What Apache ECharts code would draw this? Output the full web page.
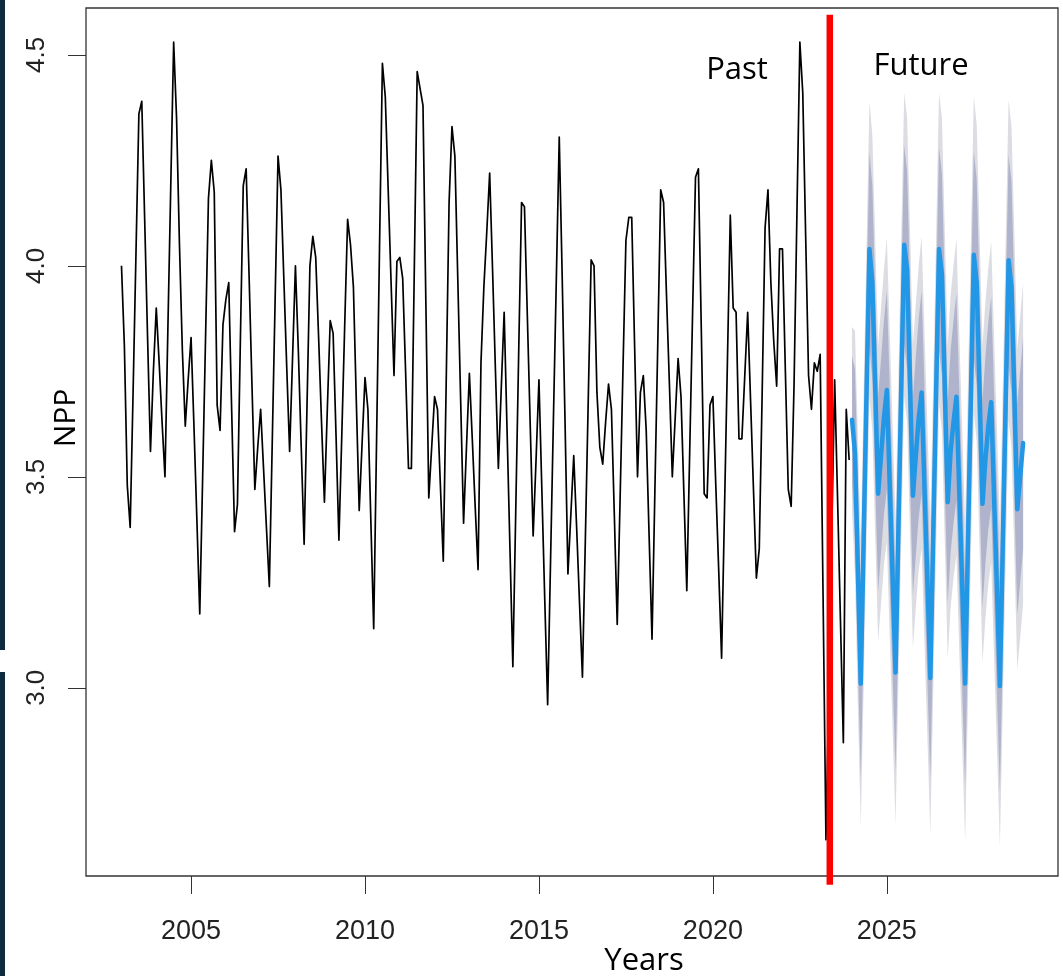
<!DOCTYPE html>
<html>
<head>
<meta charset="utf-8">
<script src="https://cdn.jsdelivr.net/npm/echarts@6/dist/echarts.min.js"></script>
<style>
html,body{margin:0;padding:0;background:#ffffff;}
#chart{width:1063px;height:976px;}
</style>
</head>
<body>
<div id="chart"></div>
<script>
// ---------------- DATA ----------------
const pastStartYear = 2003;            // monthly series starts Jan 2003
const pastNPP = [
  // 2003
  4.00, 3.81, 3.48, 3.38, 3.70, 4.03, 4.36, 4.39, 4.11, 3.83, 3.56, 3.75,
  // 2004
  3.90, 3.77, 3.63, 3.50, 3.85, 4.19, 4.53, 4.35, 4.05, 3.80, 3.62, 3.73,
  // 2005
  3.83, 3.62, 3.40, 3.175, 3.50, 3.83, 4.16, 4.25, 4.175, 3.67, 3.61, 3.86,
  // 2006
  3.92, 3.96, 3.66, 3.37, 3.435, 3.82, 4.19, 4.23, 3.98, 3.72, 3.47, 3.57,
  // 2007
  3.66, 3.52, 3.38, 3.24, 3.58, 3.92, 4.26, 4.18, 3.97, 3.76, 3.56, 3.78,
  // 2008
  4.00, 3.80, 3.57, 3.34, 3.67, 4.00, 4.07, 4.02, 3.83, 3.63, 3.44, 3.66,
  // 2009
  3.87, 3.84, 3.60, 3.35, 3.60, 3.86, 4.11, 4.05, 3.95, 3.68, 3.42, 3.58,
  // 2010
  3.735, 3.66, 3.40, 3.14, 3.59, 4.04, 4.48, 4.40, 4.18, 3.96, 3.74, 4.01,
  // 2011
  4.02, 3.97, 3.75, 3.52, 3.52, 3.99, 4.46, 4.42, 4.38, 3.91, 3.45, 3.57,
  // 2012
  3.69, 3.66, 3.48, 3.30, 3.72, 4.15, 4.33, 4.26, 3.97, 3.68, 3.39, 3.57,
  // 2013
  3.745, 3.59, 3.43, 3.28, 3.77, 3.95, 4.08, 4.22, 3.99, 3.75, 3.52, 3.71,
  // 2014
  3.89, 3.61, 3.33, 3.05, 3.42, 3.79, 4.15, 4.14, 3.88, 3.62, 3.36, 3.54,
  // 2015
  3.73, 3.47, 3.21, 2.96, 3.30, 3.64, 3.97, 4.305, 3.98, 3.63, 3.27, 3.41,
  // 2016
  3.55, 3.38, 3.20, 3.025, 3.35, 3.68, 4.014, 4.00, 3.70, 3.57, 3.53, 3.63,
  // 2017
  3.72, 3.66, 3.41, 3.15, 3.45, 3.76, 4.06, 4.115, 4.115, 3.81, 3.50, 3.70,
  // 2018
  3.74, 3.61, 3.36, 3.115, 3.47, 3.82, 4.18, 4.15, 3.93, 3.72, 3.50, 3.64,
  // 2019
  3.78, 3.69, 3.46, 3.23, 3.56, 3.89, 4.21, 4.23, 3.85, 3.46, 3.45, 3.67,
  // 2020
  3.69, 3.48, 3.28, 3.07, 3.42, 3.77, 4.12, 3.90, 3.89, 3.59, 3.59, 3.74,
  // 2021
  3.89, 3.68, 3.47, 3.26, 3.33, 3.70, 4.09, 4.18, 3.96, 3.82, 3.715, 4.04,
  // 2022
  4.04, 3.75, 3.47, 3.43, 3.72, 4.13, 4.53, 4.41, 4.07, 3.74, 3.66, 3.77,
  // 2023
  3.75, 3.79, 3.22, 2.64, 3.00, 3.37, 3.73, 3.45, 3.16, 2.87, 3.66, 3.54
];

const forecastStartYear = 2024;        // forecast starts Jan 2024
const forecastMean = [
  3.635, 3.556, 3.28, 3.01, 3.35, 3.70, 4.04, 3.96, 3.71, 3.46, 3.55, 3.64,
  3.706, 3.48, 3.26, 3.036, 3.38, 3.72, 4.05, 3.99, 3.72, 3.455, 3.55, 3.64,
  3.70, 3.47, 3.25, 3.023, 3.36, 3.70, 4.04, 3.98, 3.71, 3.44, 3.56, 3.63,
  3.69, 3.46, 3.24, 3.01, 3.35, 3.69, 4.026, 3.96, 3.70, 3.436, 3.54, 3.62,
  3.677, 3.45, 3.23, 3.004, 3.34, 3.68, 4.013, 3.95, 3.69, 3.423, 3.50, 3.58
];
// half-widths of the 80% and 95% prediction intervals
const halfWidth80 = [
  0.15, 0.20, 0.22, 0.23, 0.23, 0.23, 0.23, 0.23, 0.23, 0.23, 0.23, 0.23,
  0.235, 0.235, 0.235, 0.235, 0.235, 0.235, 0.235, 0.235, 0.235, 0.235, 0.235, 0.235,
  0.24, 0.24, 0.24, 0.24, 0.24, 0.24, 0.24, 0.24, 0.24, 0.24, 0.24, 0.24,
  0.245, 0.245, 0.245, 0.245, 0.245, 0.245, 0.245, 0.245, 0.245, 0.245, 0.245, 0.245,
  0.25, 0.25, 0.25, 0.25, 0.25, 0.25, 0.25, 0.25, 0.25, 0.25, 0.25, 0.25
];
const halfWidth95 = [
  0.22, 0.29, 0.32, 0.34, 0.35, 0.35, 0.35, 0.35, 0.35, 0.35, 0.35, 0.35,
  0.36, 0.36, 0.36, 0.36, 0.36, 0.36, 0.36, 0.36, 0.36, 0.36, 0.36, 0.36,
  0.37, 0.37, 0.37, 0.37, 0.37, 0.37, 0.37, 0.37, 0.37, 0.37, 0.37, 0.37,
  0.375, 0.375, 0.375, 0.375, 0.375, 0.375, 0.375, 0.375, 0.375, 0.375, 0.375, 0.375,
  0.38, 0.38, 0.38, 0.38, 0.38, 0.38, 0.38, 0.38, 0.38, 0.38, 0.38, 0.38
];

const dividerYear = 2023.36;           // red Past/Future divider
const xTickValues = [2005, 2010, 2015, 2020, 2025];
const yTickValues = [3.0, 3.5, 4.0, 4.5];
const labelPast = 'Past';
const labelFuture = 'Future';
const axisNameX = 'Years';
const axisNameY = 'NPP';

// ---------------- BUILD ----------------
const pastData = pastNPP.map((v, i) => [pastStartYear + i / 12, v]);
const fcX = forecastMean.map((v, i) => forecastStartYear + i / 12);
const fcData = forecastMean.map((v, i) => [fcX[i], v]);
const lo80 = forecastMean.map((v, i) => v - halfWidth80[i]);
const hi80 = forecastMean.map((v, i) => v + halfWidth80[i]);
const lo95 = forecastMean.map((v, i) => v - halfWidth95[i]);
const hi95 = forecastMean.map((v, i) => v + halfWidth95[i]);

function bandSeries(lo, hi, color, z) {
  return {
    type: 'custom',
    silent: true,
    z: z,
    data: [[fcX[0], forecastMean[0]]],
    renderItem: function (params, api) {
      const pts = [];
      for (let i = 0; i < fcX.length; i++) pts.push(api.coord([fcX[i], hi[i]]));
      for (let i = fcX.length - 1; i >= 0; i--) pts.push(api.coord([fcX[i], lo[i]]));
      return { type: 'polygon', shape: { points: pts }, style: { fill: color } };
    }
  };
}

const tickFont = 'Liberation Sans, Arial, sans-serif';
const annFont = '"Open Sans", "Noto Sans", sans-serif';

const chart = echarts.init(document.getElementById('chart'), null, { renderer: 'canvas' });
chart.setOption({
  animation: false,
  backgroundColor: '#ffffff',
  grid: {
    left: 86, right: 5, top: 8, bottom: 100,
    show: true, borderColor: '#333333', borderWidth: 1.3, backgroundColor: 'transparent'
  },
  xAxis: {
    type: 'value', min: 2001.98, max: 2029.92,
    axisLine: { show: false },
    splitLine: { show: false },
    axisTick: { show: true, length: 18, lineStyle: { color: '#333', width: 1 }, customValues: xTickValues },
    axisLabel: {
      customValues: xTickValues, margin: 42,
      fontFamily: tickFont, fontSize: 27, color: '#222',
      formatter: v => String(Math.round(v))
    }
  },
  yAxis: {
    type: 'value', min: 2.554, max: 4.611,
    axisLine: { show: false },
    splitLine: { show: false },
    axisTick: { show: true, length: 18, lineStyle: { color: '#333', width: 1 }, customValues: yTickValues },
    axisLabel: {
      customValues: yTickValues, rotate: 90, margin: 36,
      fontFamily: tickFont, fontSize: 26, color: '#222',
      formatter: v => v.toFixed(1)
    }
  },
  series: [
    bandSeries(lo95, hi95, '#DCDCE3', 1),
    bandSeries(lo80, hi80, '#B0B3CC', 2),
    {
      type: 'line', data: pastData, symbol: 'none', z: 3,
      lineStyle: { color: '#000000', width: 1.7, join: 'round' }
    },
    {
      type: 'line', data: fcData, symbol: 'none', z: 4,
      lineStyle: { color: '#2297E6', width: 4.5, join: 'round', cap: 'round' }
    },
    {
      type: 'line', data: [[dividerYear, 2.533], [dividerYear, 4.595]],
      symbol: 'none', z: 6, clip: false,
      lineStyle: { color: '#FF0000', width: 6.5 }
    }
  ],
  graphic: [
    { type: 'rect', left: 0, top: 0, shape: { width: 5, height: 650 }, style: { fill: '#0E2B3D' }, z: 10 },
    { type: 'rect', left: 0, top: 672, shape: { width: 5, height: 304 }, style: { fill: '#0E2B3D' }, z: 10 },
    { type: 'text', x: 737, y: 70, style: { text: labelPast, font: '31px ' + annFont, fill: '#000', textAlign: 'center', textVerticalAlign: 'middle' }, z: 10 },
    { type: 'text', x: 921, y: 66, style: { text: labelFuture, font: '31px ' + annFont, fill: '#000', textAlign: 'center', textVerticalAlign: 'middle' }, z: 10 },
    { type: 'text', x: 644, y: 961, style: { text: axisNameX, font: '31px ' + annFont, fill: '#000', textAlign: 'center', textVerticalAlign: 'middle' }, z: 10 },
    { type: 'text', x: 66, y: 418, rotation: Math.PI / 2, style: { text: axisNameY, font: '30px ' + annFont, fill: '#000', textAlign: 'center', textVerticalAlign: 'middle' }, z: 10 }
  ]
});
</script>
</body>
</html>
